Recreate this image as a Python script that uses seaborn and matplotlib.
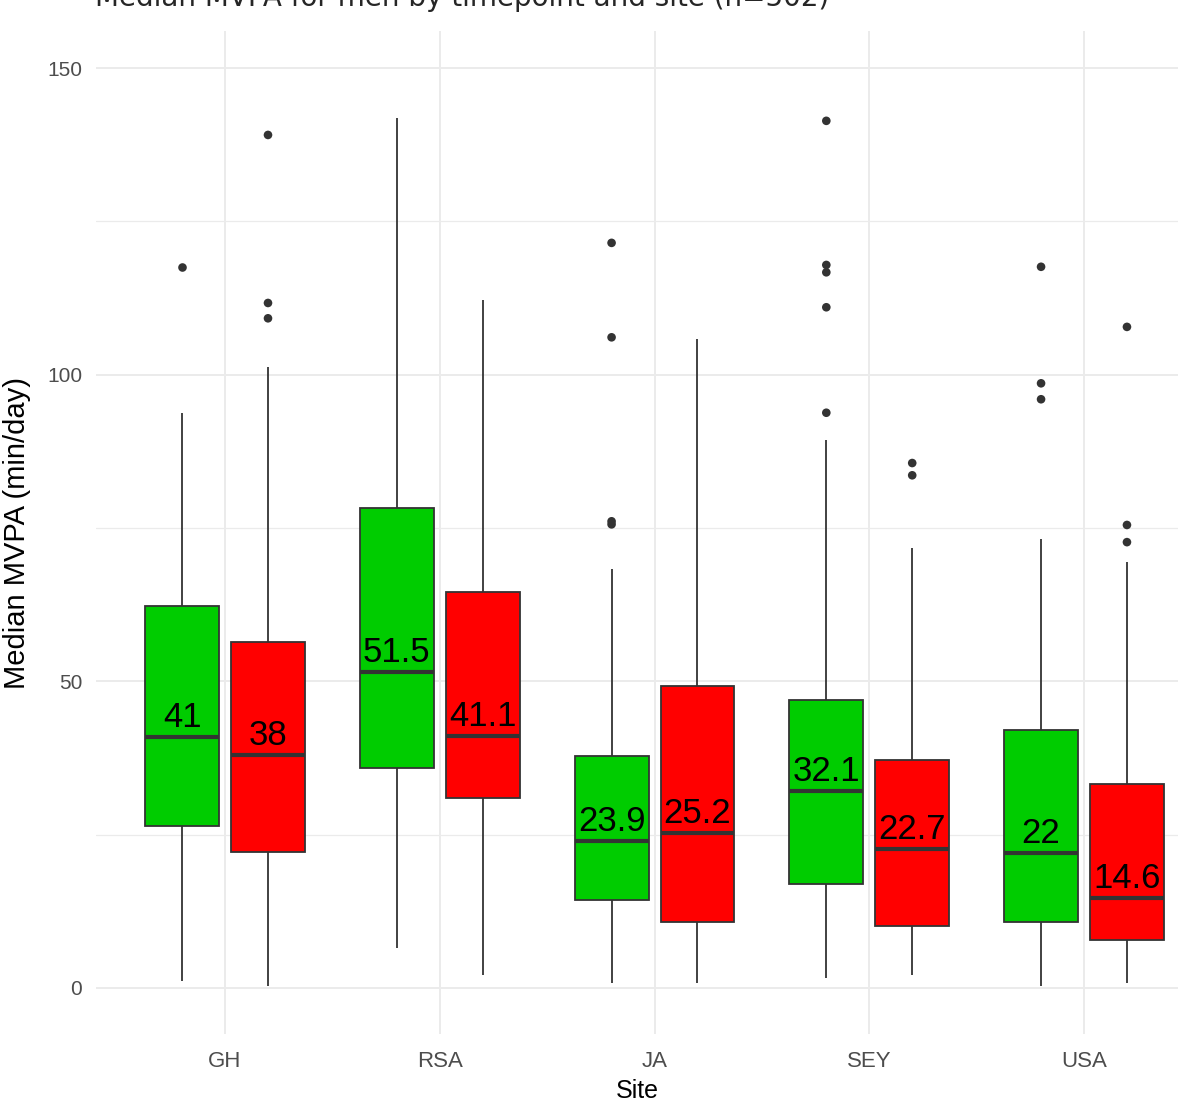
import pandas as pd
import numpy as np
import matplotlib.pyplot as plt
import seaborn as sns

# Data (minutes/day)
sites = ["GH", "RSA", "JA", "SEY", "USA"]
timepoints = ["Time 1", "Time 2"]

# Time 1 (green)
t1_low = [1.1, 6.5, 0.8, 1.6, 0.3]
t1_q1 = [26.4, 35.9, 14.3, 17.0, 10.8]
t1_med = [41, 51.5, 23.9, 32.1, 22]
t1_q3 = [62.3, 78.3, 37.8, 47.0, 42.1]
t1_high = [93.8, 141.8, 68.3, 89.3, 73.2]

# Time 2 (red)
t2_low = [0.3, 2.1, 0.8, 2.1, 0.8]
t2_q1 = [22.2, 31.0, 10.8, 10.1, 7.8]
t2_med = [38, 41.1, 25.2, 22.7, 14.6]
t2_q3 = [56.4, 64.6, 49.2, 37.2, 33.3]
t2_high = [101.3, 112.2, 105.8, 71.7, 69.5]

# Outlying points
t1_outliers = {"GH": [117.6], "RSA": [],
               "JA": [121.5, 106.1, 76.1, 75.6],
               "SEY": [141.4, 117.9, 116.7, 111.0, 93.8],
               "USA": [117.6, 98.6, 96.0]}
t2_outliers = {"GH": [139.1, 111.7, 109.2], "RSA": [], "JA": [],
               "SEY": [85.6, 83.6],
               "USA": [107.8, 75.5, 72.7]}

colors = {"Time 1": "#00CC00", "Time 2": "#FF0000"}

# Build long tables for seaborn
box_rows = []
for tp, stats in [("Time 1", (t1_low, t1_q1, t1_med, t1_q3, t1_high)),
                  ("Time 2", (t2_low, t2_q1, t2_med, t2_q3, t2_high))]:
    for i, site in enumerate(sites):
        for s in stats:
            box_rows.append({"site": site, "time": tp, "mvpa": s[i]})
box_df = pd.DataFrame(box_rows)

out_rows = []
for tp, outs in [("Time 1", t1_outliers), ("Time 2", t2_outliers)]:
    for site in sites:
        for v in outs[site]:
            out_rows.append({"site": site, "time": tp, "mvpa": v})
out_df = pd.DataFrame(out_rows)

sns.set_theme(style="whitegrid")
plt.rcParams["font.family"] = ["Liberation Sans", "DejaVu Sans"]

fig = plt.figure(figsize=(11.78, 11.10), dpi=100)
ax = fig.add_axes([96.2 / 1178, 0.0685, 1 - 96.2 / 1178, 0.9033])

sns.boxplot(data=box_df, x="site", y="mvpa", hue="time", order=sites,
            hue_order=timepoints, palette=colors, saturation=1,
            whis=(0, 100), showfliers=False, showcaps=False,
            width=0.8, gap=0.14, linecolor="#333333", linewidth=1.3,
            medianprops={"linewidth": 3, "color": "#333333"},
            legend=False, ax=ax)

sns.stripplot(data=out_df, x="site", y="mvpa", hue="time", order=sites,
              hue_order=timepoints, palette={"Time 1": "#333333", "Time 2": "#333333"},
              dodge=True, jitter=False, size=6.2, legend=False, ax=ax)

# Median labels
for tp, meds, off in [("Time 1", t1_med, -0.2), ("Time 2", t2_med, 0.2)]:
    for i, m in enumerate(meds):
        ax.annotate(f"{m:g}", xy=(i + off, m), xytext=(0, 10),
                    textcoords="offset pixels", ha="center", va="baseline",
                    fontsize=25, color="black")

ax.set_xlim(-0.6, (1178 - 225) / 214.75)
ax.set_ylim(-7.5, 156)
ax.set_yticks([0, 50, 100, 150])
ax.set_yticks([25, 75, 125], minor=True)
ax.grid(True, which="major", color="#EBEBEB", linewidth=1.4)
ax.grid(True, which="minor", axis="y", color="#EBEBEB", linewidth=0.9)
for s in ax.spines.values():
    s.set_visible(False)
ax.tick_params(axis="both", which="both", length=0)
ax.tick_params(axis="y", labelsize=15, labelcolor="#4D4D4D", pad=10)
ax.tick_params(axis="x", labelsize=16, labelcolor="#4D4D4D", pad=12)

ax.set_ylabel("Median MVPA (min/day)", fontsize=21, color="black", labelpad=12)
ax.set_xlabel("Site", fontsize=18, color="black", labelpad=5)

# title sits mostly above the top edge, as in the source image
fig.text(95 / 1178, 1 - 6 / 1110, "Median MVPA for men by timepoint and site (n=502)",
         fontsize=20, family=["DejaVu Sans"], ha="left", va="baseline")

fig.savefig("out.png", dpi=100)
